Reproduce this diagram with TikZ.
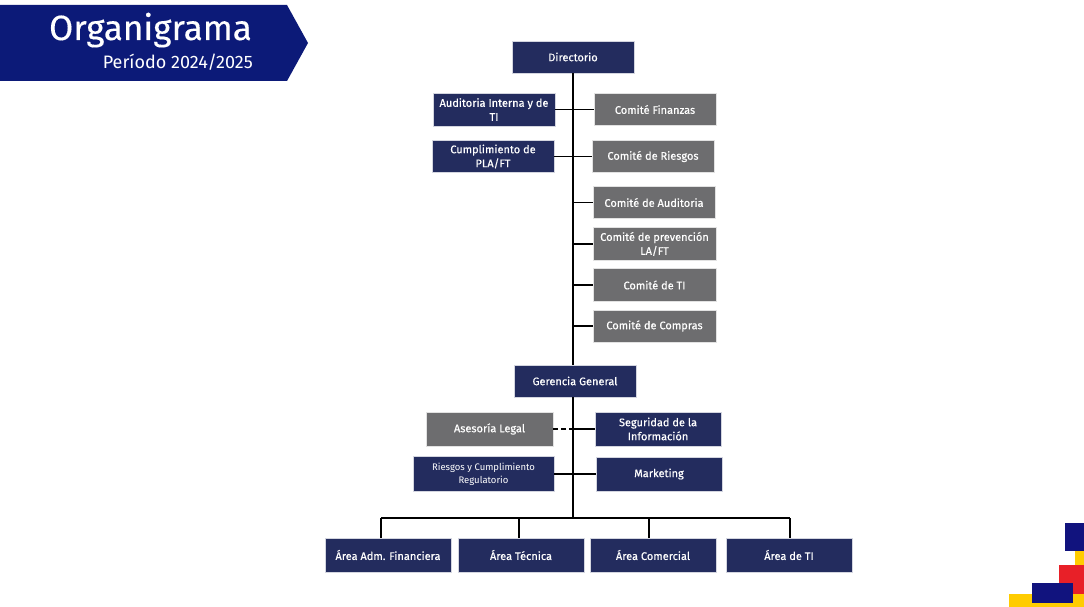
\documentclass[tikz,border=0pt]{standalone}
\usepackage{fontspec}
\setmainfont{Fira Sans}
\definecolor{navy}{RGB}{35,44,94}
\definecolor{grayb}{RGB}{109,109,111}
\definecolor{banner}{RGB}{12,26,120}
\definecolor{bnavy}{RGB}{17,19,126}
\definecolor{byellow}{RGB}{255,204,0}
\definecolor{bred}{RGB}{232,32,40}
\tikzset{
  ob/.style={draw=white!80!navy, line width=0.6pt, fill=navy, text=white, inner sep=1pt, align=center, font=\fontsize{11}{14}\selectfont\addfontfeature{FakeBold=0.4}},
  gb/.style={ob, fill=grayb, draw=white!80!grayb},
  ln/.style={line width=1.8pt, black},
}
\begin{document}
\begin{tikzpicture}[x=1pt,y=-1pt]
\useasboundingbox (0,0) rectangle (1084,607);
% banner
\fill[banner] (0,5) -- (287,5) -- (308,43) -- (287,81) -- (0,81) -- cycle;
\node[anchor=base east, text=white, font=\fontsize{35}{38}\selectfont\addfontfeature{FakeBold=0.3}, inner sep=0] (title) at (252,40) {Organigrama};
\node[anchor=base east, text=white, font=\fontsize{18}{20}\selectfont, inner sep=0] (period) at (253,69) {Período 2024/2025};
% decoration bottom right
\fill[byellow] (1009,594) rectangle (1084,607);
\fill[byellow] (1075,551) rectangle (1084,565);
\fill[bred] (1059,565) rectangle (1084,594);
\fill[bnavy] (1065,523) rectangle (1084,551);
\fill[bnavy] (1032,583) rectangle (1073,603);
% nodes
\node[ob, minimum width=122, minimum height=32] (dir) at (573,57) {Directorio};
\node[ob, minimum width=122, minimum height=33] (aud) at (494,109.5) {Auditoria Interna y de\\TI};
\node[gb, minimum width=122, minimum height=32] (fin) at (655,109.5) {Comité Finanzas};
\node[ob, minimum width=122, minimum height=32] (cum) at (493,156.5) {Cumplimiento de\\PLA/FT};
\node[gb, minimum width=122, minimum height=32] (rie) at (653,156.5) {Comité de Riesgos};
\node[gb, minimum width=122, minimum height=32] (cau) at (654,202.5) {Comité de Auditoria};
\node[gb, minimum width=123, minimum height=33] (cpr) at (654.5,244) {Comité de prevención\\LA/FT};
\node[gb, minimum width=123, minimum height=33] (cti) at (654.5,285) {Comité de TI};
\node[gb, minimum width=123, minimum height=32] (cco) at (654.5,326) {Comité de Compras};
\node[ob, minimum width=122, minimum height=32] (ger) at (575,381) {Gerencia General};
\node[gb, minimum width=127, minimum height=34] (ase) at (489.5,429) {Asesoría Legal};
\node[ob, minimum width=126, minimum height=34] (seg) at (658,429) {Seguridad de la\\Información};
\node[ob, minimum width=141, minimum height=35, font=\fontsize{9.5}{13}\selectfont] (rcr) at (483.5,474) {Riesgos y Cumplimiento\\Regulatorio};
\node[ob, minimum width=126, minimum height=34] (mkt) at (659,474) {Marketing};
\node[ob, minimum width=126, minimum height=34] (a1) at (388,555) {Área Adm. Financiera};
\node[ob, minimum width=126, minimum height=34] (a2) at (521,555) {Área Técnica};
\node[ob, minimum width=126, minimum height=34] (a3) at (653,555) {Área Comercial};
\node[ob, minimum width=126, minimum height=34] (a4) at (789,555) {Área de TI};
% connectors
\coordinate (bus) at (573,518);
\draw[ln] (dir.south) -- (dir.south |- ger.north);
\draw[ln] (dir.south |- ger.south) -- (bus);
\draw[ln] (aud.east) -- (fin.west);
\draw[ln] (cum.east) -- (rie.west);
\draw[ln] (dir.south |- cau.west) -- (cau.west);
\draw[ln] (dir.south |- cpr.west) -- (cpr.west);
\draw[ln] (dir.south |- cti.west) -- (cti.west);
\draw[ln] (dir.south |- cco.west) -- (cco.west);
\draw[ln, dash pattern=on 5pt off 3pt] (ase.east) -- (dir.south |- ase.east);
\draw[ln] (dir.south |- seg.west) -- (seg.west);
\draw[ln] (rcr.east) -- (mkt.west);
\coordinate (d1) at (381,518);
\coordinate (d2) at (519,518);
\coordinate (d3) at (649,518);
\coordinate (d4) at (790,518);
\draw[ln] (d1) -- (d4);
\draw[ln] (d1) -- (d1 |- a1.north);
\draw[ln] (d2) -- (d2 |- a2.north);
\draw[ln] (d3) -- (d3 |- a3.north);
\draw[ln] (d4) -- (d4 |- a4.north);
\end{tikzpicture}
\end{document}
